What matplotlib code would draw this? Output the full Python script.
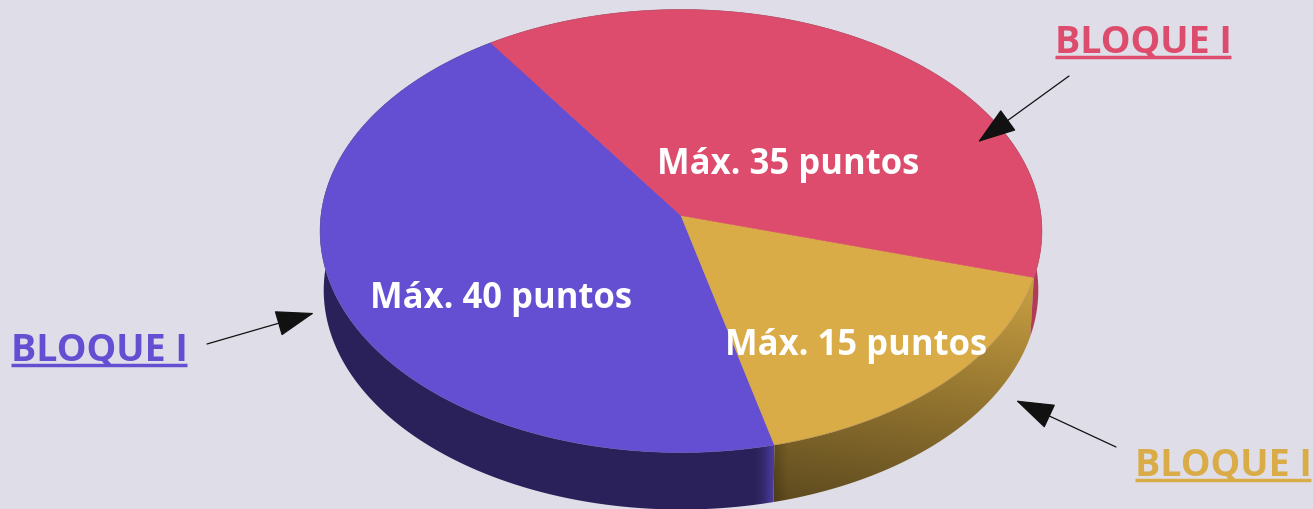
import numpy as np
import matplotlib
matplotlib.use("Agg")
import matplotlib.pyplot as plt
from matplotlib.patches import Polygon, FancyArrowPatch

# Data (counter-clockwise from the start angle)
blocks = ["BLOQUE I", "BLOQUE I", "BLOQUE I"]
points = [40, 15, 35]
colors = ["#644FD2", "#D9AC47", "#DD4C6C"]
text_pos = [(501, 299.5), (856, 346.5), (788, 165.5)]
title_pos = [(99, 351), (1223, 466), (1143, 43)]
arrows = [((207, 345), (314, 314)), ((1116, 448), (1016, 401.5)), ((1069, 77), (978, 143))]
START = 124.0

BG = "#DFDEE8"
CX, CY, A, B, K, DEPTH, SHRINK = 681.0, 216.5, 360.0, 220.4, 0.07, 59.4, 0.99
W, H = 1313, 510

fig = plt.figure(figsize=(W / 100, H / 100), dpi=100, facecolor=BG)
ax = fig.add_axes([0, 0, 1, 1])
ax.set_xlim(0, W)
ax.set_ylim(H, 0)
ax.axis("off")


def rim(deg, drop=0.0, scale=1.0):
    t = np.radians(deg)
    u, v = np.cos(t), np.sin(t)
    w = 1 + K * v
    return np.column_stack((CX + scale * A * u / w, CY - scale * B * v / w + drop))


def rgb(c):
    return np.array(matplotlib.colors.to_rgb(c))


yy, xx = np.mgrid[0:H, 0:W] + 0.5


def side_image(i):
    base = rgb(colors[i])
    if i == 0:   # blue: dark wall with lighter sliver at its end
        s = 0.43 + 0.33 * np.clip((xx - 755) / 18, 0, 1) ** 1.5
    elif i == 1:  # gold: diagonal light gradient
        s = 1.184 + 0.00028 * xx - 0.00193 * yy
        s = s * (0.8 + 0.2 * np.clip((xx - 774) / 14, 0, 1))
    else:
        s = 0.8 * np.ones_like(xx)
    return np.clip(base[None, None, :] * np.clip(s, 0, 1)[..., None], 0, 1)


angle = START
total = sum(points)
spans = []
for v in points:
    sweep = 360.0 * v / total
    spans.append((angle, angle + sweep))
    angle += sweep

# side walls
for i, (a0, a1) in enumerate(spans):
    th = np.linspace(a0, a1, 300)
    top = rim(th)
    bot = rim(th, DEPTH, SHRINK)
    poly = Polygon(np.vstack((top, bot[::-1])), closed=True, transform=ax.transData,
                   facecolor="none", edgecolor="none")
    ax.add_patch(poly)
    im = ax.imshow(side_image(i), extent=(0, W, H, 0), aspect="auto", zorder=1,
                   interpolation="bilinear")
    im.set_clip_path(poly)
ax.set_xlim(0, W)
ax.set_ylim(H, 0)

# top faces
for i, (a0, a1) in enumerate(spans):
    th = np.linspace(a0, a1, 300)
    pts = np.vstack(([[CX, CY]], rim(th)))
    ax.add_patch(Polygon(pts, closed=True, facecolor=colors[i], edgecolor=colors[i],
                         linewidth=0.4, zorder=2))

# outline shading
th = np.linspace(0, 360, 720)
ax.plot(*rim(th).T, color="#6a656e", lw=0.5, alpha=0.3, zorder=3)

FONT = "Open Sans"
for v, (x, y) in zip(points, text_pos):
    ax.text(x, y, f"Máx. {v} puntos", color="white", fontsize=24.9, fontweight="bold",
            family=FONT, ha="center", va="center", zorder=5)

for name, c, (x, y) in zip(blocks, colors, title_pos):
    ax.text(x, y, name, color=c, fontsize=27, fontweight="bold", family=FONT,
            ha="center", va="center", zorder=5, clip_on=False)
    ax.plot([x - 88, x + 88], [y + 14.5, y + 14.5], color=c, lw=2.5,
            solid_capstyle="butt", zorder=5)

for p0, p1 in arrows:
    ax.add_patch(FancyArrowPatch(p0, p1, arrowstyle="-|>,head_length=25,head_width=8.5",
                                 mutation_scale=1, color="#111111", lw=0.9, shrinkA=0, shrinkB=0,
                                 zorder=6))

fig.savefig("out.png", dpi=100, facecolor=BG)
